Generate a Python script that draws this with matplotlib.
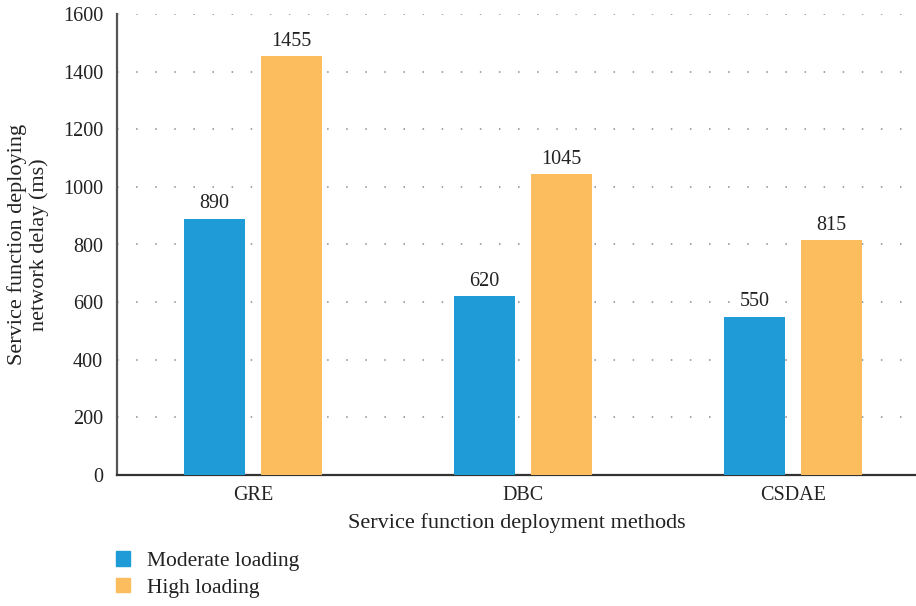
import matplotlib
matplotlib.use("Agg")
import matplotlib.pyplot as plt
from matplotlib.patches import Patch
import numpy as np

plt.rcParams['font.family'] = ['Liberation Serif', 'DejaVu Serif']

methods = ["GRE", "DBC", "CSDAE"]
moderate = [890, 620, 550]
high = [1455, 1045, 815]
series_names = ["Moderate loading", "High loading"]
colors = ["#1f9cd7", "#fbbd5e"]
yticks = [0, 200, 400, 600, 800, 1000, 1200, 1400, 1600]

fig = plt.figure(figsize=(9.16, 6.06), dpi=100)
ax = fig.add_axes([117 / 916, 1 - 475 / 606, 1 - 117 / 916, 461 / 606])

x = np.arange(len(methods))
width = 0.226
offset = 0.1426
b1 = ax.bar(x - offset, moderate, width, color=colors[0], zorder=3)
b2 = ax.bar(x + offset, high, width, color=colors[1], zorder=3)

for bars, vals in ((b1, moderate), (b2, high)):
    for rect, v in zip(bars, vals):
        ax.text(rect.get_x() + rect.get_width() / 2, v + 18, f"{v}",
                ha="center", va="bottom", fontsize=14.5, color="#222222")

ax.set_xlim(-0.503, 2.455)
ax.set_ylim(0, 1600)
ax.set_yticks(yticks)
ax.set_xticks(x)
ax.set_xticklabels(methods)
ax.tick_params(axis="both", length=0, labelsize=14.5, colors="#222222")
ax.tick_params(axis="y", pad=10)
ax.tick_params(axis="x", pad=8)

ax.grid(axis="y", linestyle=(0, (1, 11.5)), color="#8a8a8a", linewidth=1.1, zorder=0)
for s in ("top", "right"):
    ax.spines[s].set_visible(False)
ax.spines["left"].set_color("#555555")
ax.spines["left"].set_linewidth(1.6)
ax.spines["bottom"].set_color("#333333")
ax.spines["bottom"].set_linewidth(1.6)

ax.set_xlabel("Service function deployment methods", fontsize=16, color="#222222", labelpad=6)
ax.set_ylabel("Service function deploying\nnetwork delay (ms)", fontsize=16,
              color="#222222", labelpad=10, linespacing=1.15)

handles = [Patch(color=c) for c in colors]
fig.legend(handles, series_names, loc="lower left", bbox_to_anchor=(97 / 916, -0.018),
           frameon=False, fontsize=15.5, handlelength=0.65, handleheight=0.65,
           handletextpad=0.75, labelspacing=0.32, labelcolor="#222222")

fig.savefig("out.png", dpi=100)
